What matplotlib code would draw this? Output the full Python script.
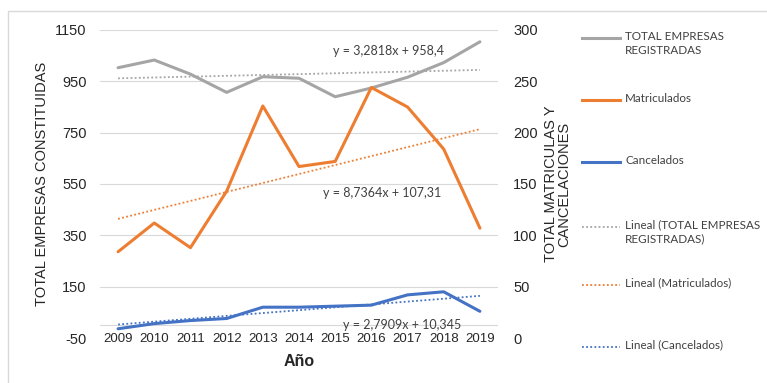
import matplotlib
matplotlib.use("Agg")
import matplotlib.pyplot as plt
import numpy as np
from matplotlib.lines import Line2D
from matplotlib.patches import Rectangle


years = ["2009", "2010", "2011", "2012", "2013", "2014",
         "2015", "2016", "2017", "2018", "2019"]
total_empresas = [1003, 1033, 978, 907, 968, 962, 890, 924, 966, 1023, 1104]
matriculados = [84, 112, 88, 143, 226, 167, 172, 244, 225, 184, 107]
cancelados = [9, 14, 17, 19, 30, 30, 31, 32, 42, 45, 26]

# trendline coefficients as printed on the chart (slope, intercept)
trend_total = (3.2818, 958.4)
trend_matr = (8.7364, 107.31)
trend_canc = (2.7909, 10.345)

GRAY = "#a5a5a5"
ORANGE = "#ed7d31"
BLUE = "#4472c4"
GRID = "#d9d9d9"

W, H = 767, 383


def fx(px):
    return px / W


def fy(py):
    return 1 - py / H


plt.rcParams["font.family"] = ["Liberation Sans", "DejaVu Sans"]
plt.rcParams["axes.unicode_minus"] = False

fig = plt.figure(figsize=(W / 100, H / 100), dpi=100)
fig.patch.set_facecolor("white")
fig.add_artist(Rectangle((fx(8), fy(400)), 1.2, fy(11) - fy(400),
                         transform=fig.transFigure, fill=False,
                         edgecolor=GRID, linewidth=1))

ax = fig.add_axes([fx(100), fy(338), fx(498) - fx(100), fy(30) - fy(338)])
ax2 = ax.twinx()

x = np.arange(1, len(years) + 1)

# left axis: total empresas
ax.set_ylim(-50, 1150)
ax.set_yticks(np.arange(-50, 1151, 200))
ax.set_xlim(0.5, len(years) + 0.5)
ax.set_xticks(x)
ax.set_xticklabels(years)
ax.grid(axis="y", color=GRID, linewidth=0.8)
ax.axhline(0, color=GRID, linewidth=0.8)
ax.set_axisbelow(True)
ax.tick_params(axis="y", length=0, pad=9.5, labelsize=10.5, labelcolor="#262626")
ax.tick_params(axis="x", length=0, pad=-3.6, labelsize=9.5, labelcolor="#262626")

ax.plot(x, total_empresas, color=GRAY, linewidth=2.2, solid_capstyle="round")
ax.plot(x, trend_total[0] * x + trend_total[1], color=GRAY,
        linewidth=1.3, linestyle=(0, (1, 1.3)))

# right axis: matriculados y cancelados
ax2.set_ylim(0, 300)
ax2.set_yticks(np.arange(0, 301, 50))
ax2.tick_params(axis="y", length=0, pad=11, labelsize=10.5, labelcolor="#262626")

ax2.plot(x, matriculados, color=ORANGE, linewidth=2.2, solid_capstyle="round")
ax2.plot(x, cancelados, color=BLUE, linewidth=2.2, solid_capstyle="round")
ax2.plot(x, trend_matr[0] * x + trend_matr[1], color=ORANGE,
         linewidth=1.3, linestyle=(0, (1, 1.3)))
ax2.plot(x, trend_canc[0] * x + trend_canc[1], color=BLUE,
         linewidth=1.3, linestyle=(0, (1, 1.3)))

for a in (ax, ax2):
    for s in a.spines.values():
        s.set_visible(False)

# axis titles
ax.set_ylabel("TOTAL EMPRESAS CONSTITUIDAS", fontsize=10.5, color="#262626")
ax.yaxis.set_label_coords((42 - 100) / 398, 0.5)
ax.yaxis.label.set_va("center")

ax2.set_ylabel("TOTAL MATRICULAS Y\nCANCELACIONES", fontsize=10.5,
               color="#262626", rotation=90, linespacing=0.95)
ax2.yaxis.set_label_coords((558 - 100) / 398, 0.5)
ax2.yaxis.label.set_va("center")
ax2.yaxis.label.set_ha("center")

ax.set_xlabel("Año", fontsize=11.5, fontweight="bold", color="#262626")
ax.xaxis.set_label_coords(0.5, (338 - 362) / 308)
ax.xaxis.label.set_va("center")

# trendline equations
eq_font = dict(family=["Lato", "DejaVu Sans"], fontsize=9, color="#404040",
               va="center", ha="left")
fig.text(fx(333), fy(51), "y = 3,2818x + 958,4", **eq_font)
fig.text(fx(323), fy(193), "y = 8,7364x + 107,31", **eq_font)
fig.text(fx(343), fy(325), "y = 2,7909x + 10,345", **eq_font)

# legend drawn by hand to keep the wide spacing
legend_items = [
    ("TOTAL EMPRESAS\nREGISTRADAS", GRAY, "-", 38),
    ("Matriculados", ORANGE, "-", 100),
    ("Cancelados", BLUE, "-", 162),
    ("Lineal (TOTAL EMPRESAS\nREGISTRADAS)", GRAY, ":", 227),
    ("Lineal (Matriculados)", ORANGE, ":", 285),
    ("Lineal (Cancelados)", BLUE, ":", 347),
]
for label, color, style, ypx in legend_items:
    if style == "-":
        fig.add_artist(Line2D([fx(582), fx(620)], [fy(ypx), fy(ypx)],
                              transform=fig.transFigure, color=color,
                              linewidth=2.2))
    else:
        fig.add_artist(Line2D([fx(582), fx(620)], [fy(ypx), fy(ypx)],
                              transform=fig.transFigure, color=color,
                              linewidth=1.3, linestyle=(0, (1, 1.3))))
    fig.text(fx(625), fy(ypx - 7.5), label, family=["Lato", "DejaVu Sans"],
             fontsize=8.4, color="#404040", va="top", ha="left", linespacing=1.35)

fig.savefig("out.png", dpi=100)
